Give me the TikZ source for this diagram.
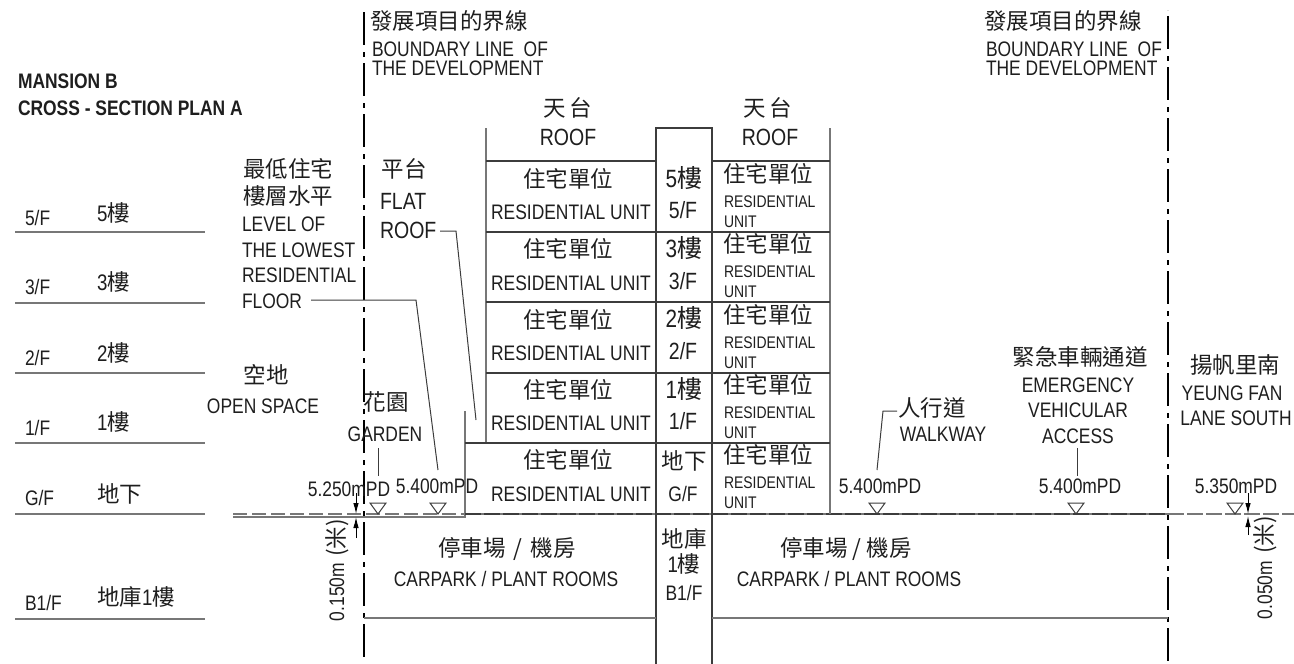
\documentclass[tikz,border=0pt]{standalone}
\usepackage{fontspec}
\setmainfont{Liberation Sans}[FakeStretch=0.83]
\newfontfamily\cjk{Noto Sans CJK TC}
\usetikzlibrary{arrows.meta}
\definecolor{ink}{HTML}{1E1E1E}
\definecolor{ln}{HTML}{3C3C3C}
\definecolor{gl}{HTML}{777777}
\newcommand{\dg}[1]{{\rmfamily #1}}
\tikzset{
 lab/.style={inner sep=0pt,outer sep=0pt,text=ink,text height=14pt,text depth=0pt,anchor=center},
 en/.style={lab,font=\fontsize{21}{21}\selectfont},
 enl/.style={lab,font=\fontsize{23.5}{23.5}\selectfont},
 ens/.style={lab,font=\fontsize{16.8}{16.8}\selectfont},
 enb/.style={lab,font=\fontsize{21}{21}\selectfont\bfseries},
 zh/.style={lab,font=\fontsize{22.5}{22.5}\cjk\selectfont},
 zhl/.style={lab,font=\fontsize{25}{25}\cjk\selectfont},
 left/.style={anchor=west},
 struct/.style={draw=ln,line width=1.2pt},
 gstruct/.style={draw=gl,line width=1.5pt},
 bound/.style={draw=black,line width=2pt,dash pattern=on 33pt off 7pt on 5pt off 6pt},
 lead/.style={draw=ln,line width=1pt},
 tri/.style={draw=ln,line width=1pt},
 dim/.style={draw=black,line width=1pt,-{Latex[length=11pt,width=5.5pt]}}
}
\begin{document}
\begin{tikzpicture}[x=1pt,y=-1pt]
\useasboundingbox (0,0) rectangle (1294,664);
% boundaries
\draw[bound] (364,12) -- (364,664);
\draw[bound,dash phase=45pt] (1168,10) -- (1168,664);
% floor lines left
\foreach \y in {232,303,373,443,514,619} \draw[gstruct] (15,\y) -- (205,\y);
% ground
\draw[draw=gl,line width=1.1pt] (233,517) -- (465,517) -- (465,411);
\draw[draw=gl,line width=1.1pt,dash pattern=on 14pt off 5pt] (233,514) -- (465,514);
\draw[draw=gl,line width=1.6pt] (465,514) -- (1168,514);
\draw[draw=ln,line width=1.6pt,dash pattern=on 16pt off 3pt] (465,514) -- (1168,514);
\draw[draw=gl,line width=1.2pt,dash pattern=on 16pt off 3pt] (1168,514) -- (1294,514);
% building
\draw[gstruct] (486,128) -- (486,443);
\draw[struct] (465,443) -- (656,443);
\draw[struct] (656,664) -- (656,128) -- (712,128) -- (712,664);
\draw[gstruct] (830,128) -- (830,514);
\draw[struct] (486,161) -- (656,161);
\draw[struct] (712,161) -- (830,161);
\foreach \y in {232,302,373,443} \draw[struct] (486,\y) -- (830,\y);
\draw[gstruct] (364,618) -- (656,618);
\draw[gstruct] (712,618) -- (1168,618);
% titles
\node[enb,left] (t1) at (18,81) {MANSION B};
\node[enb,left] (t2) at (18,108) {CROSS - SECTION PLAN A};
% floor labels
\node[en,left] (f5) at (25,218) {5/F};
\node[zh,left] (z5) at (97,214) {\dg{5}樓};
\node[en,left] (f3) at (25,287) {3/F};
\node[zh,left] (z3) at (97,283) {\dg{3}樓};
\node[en,left] (f2) at (25,358) {2/F};
\node[zh,left] (z2) at (97,354) {\dg{2}樓};
\node[en,left] (f1) at (25,428) {1/F};
\node[zh,left] (z1) at (97,423) {\dg{1}樓};
\node[en,left] (fg) at (25,498) {G/F};
\node[zh,left] (zg) at (97,495) {地下};
\node[en,left] (fb) at (25,603) {B1/F};
\node[zh,left] (zb) at (97,598) {地庫\dg{1}樓};
% boundary labels
\node[zh] (bz1) at (449,22) {發展項目的界線};
\node[en,left] (be1) at (372,49) {BOUNDARY LINE\ \ OF};
\node[en,left] (bf1) at (372,68) {THE DEVELOPMENT};
\node[zh] (bz2) at (1063,22) {發展項目的界線};
\node[en,left] (be2) at (986,49) {BOUNDARY LINE\ \ OF};
\node[en,left] (bf2) at (986,68) {THE DEVELOPMENT};
% roofs
\node[zh] (rz1) at (568,109) {天\hspace{4pt}台};
\node[enl] (re1) at (568,138) {ROOF};
\node[zh] (rz2) at (768,109) {天\hspace{4pt}台};
\node[enl] (re2) at (770,138) {ROOF};
% residential units (left)
\node[zh] (u1) at (568,180) {住宅單位}; \node[en] (ue1) at (571,212) {RESIDENTIAL UNIT};
\node[zh] (u2) at (568,250) {住宅單位}; \node[en] (ue2) at (571,283) {RESIDENTIAL UNIT};
\node[zh] (u3) at (568,321) {住宅單位}; \node[en] (ue3) at (571,353) {RESIDENTIAL UNIT};
\node[zh] (u4) at (568,391) {住宅單位}; \node[en] (ue4) at (571,423) {RESIDENTIAL UNIT};
\node[zh] (u5) at (568,461) {住宅單位}; \node[en] (ue5) at (571,494) {RESIDENTIAL UNIT};
% core
\node[zhl] (c5) at (684,180) {\dg{5}樓}; \node[enl] (ce5) at (683,211) {5/F};
\node[zhl] (c3) at (684,250) {\dg{3}樓}; \node[enl] (ce3) at (683,282) {3/F};
\node[zhl] (c2) at (684,320) {\dg{2}樓}; \node[enl] (ce2) at (683,352) {2/F};
\node[zhl] (c1) at (684,391) {\dg{1}樓}; \node[enl] (ce1) at (683,422) {1/F};
\node[zh] (cg) at (684,462) {地下}; \node[en] (ceg) at (683,494) {G/F};
\node[zh] (cb1) at (684,540) {地庫}; \node[zh] (cb2) at (684,565) {\dg{1}樓}; \node[en] (ceb) at (684,593) {B1/F};
% residential units (right)
\foreach \n/\y in {a/175,b/245,c/316,d/386,e/456}{
 \node[zh] (v\n) at (768,\y) {住宅單位};
 \node[ens,left] (vr\n) at (724,\y+25) {RESIDENTIAL};
 \node[ens,left] (vu\n) at (724,\y+45) {UNIT};
}
% flat roof / lowest floor
\node[zh] (fz) at (404,170) {平台};
\node[enl,left] (fl) at (380,202) {FLAT};
\node[enl,left] (fr) at (380,231) {ROOF};
\node[zh] (lz1) at (288,170) {最低住宅};
\node[zh] (lz2) at (288,197) {樓層水平};
\node[en,left] (l1) at (242,224) {LEVEL OF};
\node[en,left] (l2) at (242,250) {THE LOWEST};
\node[en,left] (l3) at (242,275) {RESIDENTIAL};
\node[en,left] (l4) at (242,301) {FLOOR};
% open space, garden
\node[zh] (oz) at (266,376) {空地};
\node[en] (oe) at (263,406) {OPEN SPACE};
\node[zh] (gz) at (386,403) {花園};
\node[en] (ge) at (385,434) {GARDEN};
% levels
\node[en] (p1) at (349,489) {5.250mPD};
\node[en] (p2) at (437,486) {5.400mPD};
\node[en] (p3) at (880,486) {5.400mPD};
\node[en] (p4) at (1080,486) {5.400mPD};
\node[en] (p5) at (1236,486) {5.350mPD};
% walkway, EVA, lane
\node[zh] (wz) at (932,409) {人行道};
\node[en] (we) at (943,434) {WALKWAY};
\node[zh] (ez) at (1080,358) {緊急車輛通道};
\node[en] (e1) at (1078,385) {EMERGENCY};
\node[en] (e2) at (1078,410) {VEHICULAR};
\node[en] (e3) at (1078,436) {ACCESS};
\node[zh] (yz) at (1235,366) {揚帆里南};
\node[en] (y1) at (1232,393) {YEUNG FAN};
\node[en] (y2) at (1236,418) {LANE SOUTH};
% carpark
\node[zh] (cz1) at (507,549) {停車場\hspace{3pt} / \hspace{3pt}機房};
\node[en] (ce1b) at (506,579) {CARPARK / PLANT ROOMS};
\node[zh] (cz2) at (846,549) {停車場 / 機房};
\node[en] (ce2b) at (849,579) {CARPARK / PLANT ROOMS};
% rotated dims
\node[en,rotate=90] (d1) at (337,592) {0.150m};
\node[zh,rotate=90] (d1z) at (337,538) {(米)};
\node[en,rotate=90] (d2) at (1265,590) {0.050m};
\node[zh,rotate=90] (d2z) at (1265,535) {(米)};
% triangles
\foreach \x in {378,438,877,1076,1235}
 \draw[tri] (\x-8,503) -- (\x+8,503) -- (\x,514) -- cycle;
% leaders
\coordinate (a1) at (311,300); \coordinate (a2) at (416,300); \coordinate (a3) at (438,470);
\draw[lead] (a1) -- (a2) -- (a3);
\coordinate (b1) at (440,231); \coordinate (b2) at (456,231); \coordinate (b3) at (476,420);
\draw[lead] (b1) -- (b2) -- (b3);
\coordinate (g1) at (378,448); \coordinate (g2) at (378,476);
\draw[lead] (g1) -- (g2);
\coordinate (w0) at (877,470); \coordinate (w2) at (883,411); \coordinate (w3) at (897,411);
\draw[lead] (w0) -- (w2) -- (w3);
\coordinate (e4) at (1077,448); \coordinate (e5) at (1077,476);
\draw[lead] (e4) -- (e5);
% dimension arrows
\coordinate (da) at (356,493); \coordinate (db) at (356,514); \coordinate (dc) at (356,538); \coordinate (dd) at (356,517);
\draw[dim] (da) -- (db); \draw[dim] (dc) -- (dd);
\coordinate (ea) at (1248,493); \coordinate (eb) at (1248,514); \coordinate (ec) at (1248,535); \coordinate (ed) at (1248,516);
\draw[dim] (ea) -- (eb); \draw[dim] (ec) -- (ed);
\end{tikzpicture}
\end{document}
